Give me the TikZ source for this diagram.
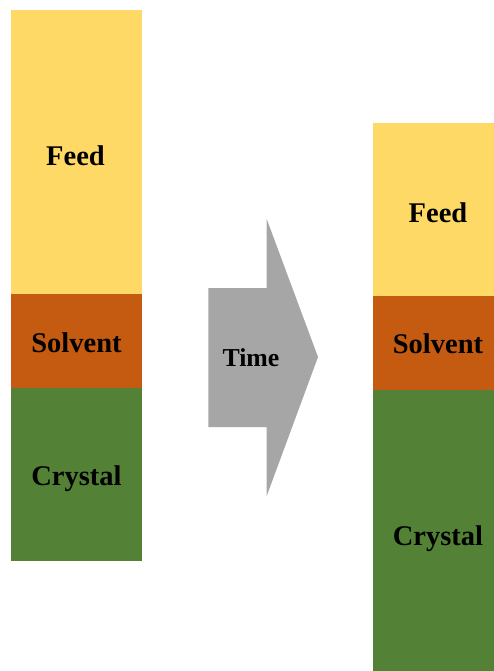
\documentclass[tikz,border=0pt]{standalone}
\usepackage{fontspec}
\setmainfont{Liberation Serif}
\definecolor{feedyellow}{HTML}{FFD966}
\definecolor{solventorange}{HTML}{C55A11}
\definecolor{crystalgreen}{HTML}{538135}
\definecolor{arrowgray}{HTML}{A6A6A6}
\begin{document}
\begin{tikzpicture}[x=1pt,y=-1pt,
  lbl/.style={font=\bfseries\fontsize{28.5}{32}\selectfont, text=black, inner sep=0pt, anchor=base},
  timelbl/.style={font=\bfseries\fontsize{25.8}{30}\selectfont, text=black, inner sep=0pt, anchor=base}]
  \useasboundingbox (0,0) rectangle (494,671);

  % column before
  \fill[feedyellow]    (11,10)  rectangle (141.5,294);
  \fill[solventorange] (11,294) rectangle (141.5,388);
  \fill[crystalgreen]  (11,388) rectangle (141.5,561);
  \node[lbl] (feedA)    at (75.5,165) {Feed};
  \node[lbl] (solventA) at (76.5,352.7) {Solvent};
  \node[lbl] (crystalA) at (76.5,485) {Crystal};

  % time arrow
  \fill[arrowgray] (208.3,288) -- (266.7,288) -- (266.7,219) -- (318,357)
    -- (266.7,496) -- (266.7,427) -- (208.3,427) -- cycle;
  \node[timelbl] (time) at (251,366.7) {Time};

  % column after
  \fill[feedyellow]    (373,123) rectangle (494,296);
  \fill[solventorange] (373,296) rectangle (494,390);
  \fill[crystalgreen]  (373,390) rectangle (494,671);
  \node[lbl] (feedB)    at (438,222.7) {Feed};
  \node[lbl] (solventB) at (438,353.3) {Solvent};
  \node[lbl] (crystalB) at (438,545) {Crystal};
\end{tikzpicture}
\end{document}
